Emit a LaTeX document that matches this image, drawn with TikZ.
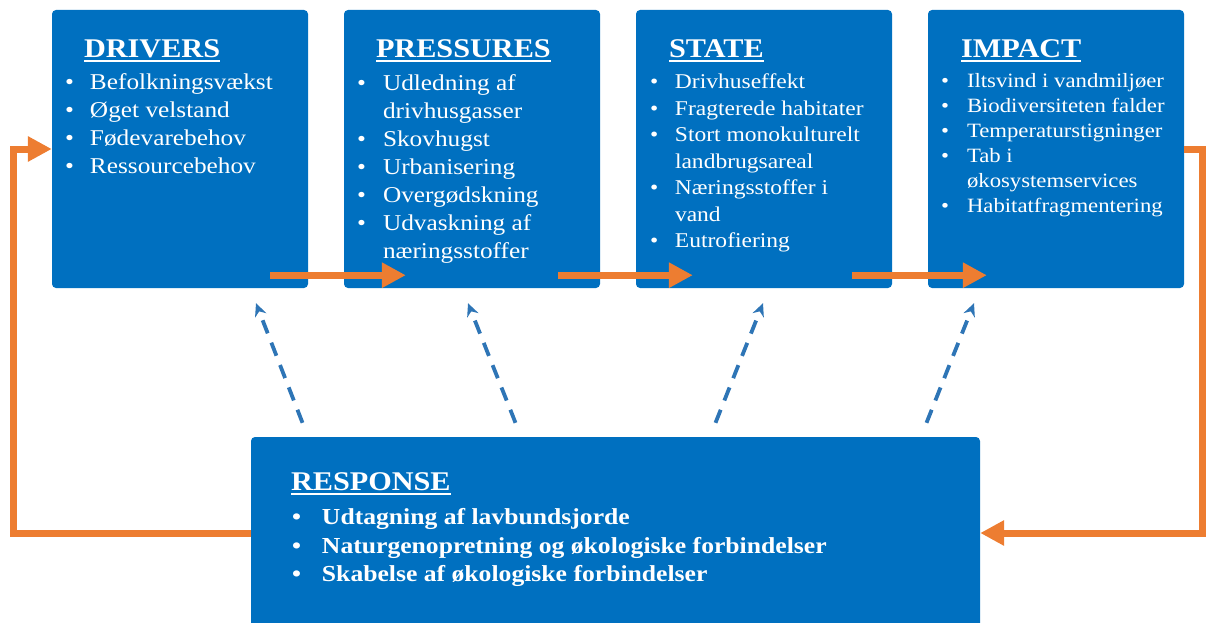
\documentclass[tikz,border=0pt]{standalone}
\usepackage{fontspec}
\setmainfont[FakeStretch=1.12]{Liberation Serif}
\usetikzlibrary{arrows.meta,positioning}
\definecolor{boxblue}{HTML}{0070C0}
\definecolor{flowor}{HTML}{ED7D31}
\definecolor{dashblue}{HTML}{2E75B6}
\newcommand\hd[1]{\setbox0\hbox{#1}\rlap{\rule[-4pt]{\wd0}{1.8pt}}\box0}

\begin{document}
\begin{tikzpicture}[x=1pt, y=1pt, node distance=292pt]
  \tikzstyle{stage} = [rectangle, fill=boxblue, rounded corners=4pt, minimum width=256pt,
                                    minimum height=278pt, inner sep=0pt]
  \tikzstyle{heading} = [anchor=base west, inner sep=0pt, text=white, font=\bfseries\fontsize{27}{32}\selectfont]
  \tikzstyle{items} = [anchor=base west, inner sep=0pt, text=white]
  \tikzstyle{flow} = [line width=7pt, draw=flowor, -{Triangle[length=24pt,width=24pt]}]
  \tikzstyle{respond} = [line width=3.8pt, draw=dashblue, dash pattern=on 14pt off 10pt,
                                    -{Stealth[length=13pt,width=12pt]}]
\clip (0,0) rectangle (1206,-623);
\node[stage] (drivers) at (180,-149) {};
\node[stage, right of=drivers] (pressures) {};
\node[stage, right of=pressures] (state) {};
\node[stage, right of=state] (impact) {};
\node[stage, minimum width=729pt, minimum height=213pt] (response) at (615.5,-543.5) {};
% headings
\node[heading] (drivhd) at ([xshift=32pt,yshift=-48pt]drivers.north west) {\hd{DRIVERS}};
\node[heading] (preshd) at ([xshift=32pt,yshift=-48pt]pressures.north west) {\hd{PRESSURES}};
\node[heading] (statehd) at ([xshift=33pt,yshift=-48pt]state.north west) {\hd{STATE}};
\node[heading] (imphd) at ([xshift=33pt,yshift=-48pt]impact.north west) {\hd{IMPACT}};
\node[heading] (resphd) at ([xshift=40pt,yshift=-54pt]response.north west) {\hd{RESPONSE}};
% lists
\node[items, font=\fontsize{22.6}{28}\selectfont] (drivlist) at ([xshift=13pt,yshift=-80pt]drivers.north west)
  {\begin{tabular}[t]{@{}p{25pt}@{}l@{}}
   \textbullet & Befolkningsvækst\\
   \textbullet & Øget velstand\\
   \textbullet & Fødevarebehov\\
   \textbullet & Ressourcebehov
   \end{tabular}};
\node[items, font=\fontsize{22.6}{28}\selectfont] (preslist) at ([xshift=13pt,yshift=-81pt]pressures.north west)
  {\begin{tabular}[t]{@{}p{26pt}@{}l@{}}
   \textbullet & Udledning af\\
               & drivhusgasser\\
   \textbullet & Skovhugst\\
   \textbullet & Urbanisering\\
   \textbullet & Overgødskning\\
   \textbullet & Udvaskning af\\
               & næringsstoffer
   \end{tabular}};
\node[items, font=\fontsize{21}{26.5}\selectfont] (statelist) at ([xshift=14pt,yshift=-79pt]state.north west)
  {\begin{tabular}[t]{@{}p{25pt}@{}l@{}}
   \textbullet & Drivhuseffekt\\
   \textbullet & Fragterede habitater\\
   \textbullet & Stort monokulturelt\\
               & landbrugsareal\\
   \textbullet & Næringsstoffer i\\
               & vand\\
   \textbullet & Eutrofiering
   \end{tabular}};
\node[items, font=\fontsize{20.3}{25}\selectfont] (implist) at ([xshift=13pt,yshift=-78pt]impact.north west)
  {\begin{tabular}[t]{@{}p{26pt}@{}l@{}}
   \textbullet & Iltsvind i vandmiljøer\\
   \textbullet & Biodiversiteten falder\\
   \textbullet & Temperaturstigninger\\
   \textbullet & Tab i\\
               & økosystemservices\\
   \textbullet & Habitatfragmentering
   \end{tabular}};
\node[items, font=\bfseries\fontsize{22.9}{28.5}\selectfont] (resplist) at ([xshift=41pt,yshift=-88pt]response.north west)
  {\begin{tabular}[t]{@{}p{30pt}@{}l@{}}
   \textbullet & Udtagning af lavbundsjorde\\
   \textbullet & Naturgenopretning og økologiske forbindelser\\
   \textbullet & Skabelse af økologiske forbindelser
   \end{tabular}};
% chain arrows
\draw[flow] ([xshift=-38pt,yshift=13pt]drivers.south east) -- ([xshift=62pt,yshift=13pt]pressures.south west);
\draw[flow] ([xshift=-42pt,yshift=13pt]pressures.south east) -- ([xshift=57pt,yshift=13pt]state.south west);
\draw[flow] ([xshift=-40pt,yshift=13pt]state.south east) -- ([xshift=59pt,yshift=13pt]impact.south west);
% feedback loop
\coordinate (rturn) at (1202,-533);
\coordinate (lturn) at (13,-533);
\draw[flow] (impact.east) -| (rturn) -- (response.east |- rturn);
\draw[flow] (response.west |- lturn) -- (lturn) |- (drivers.west);
% response arrows
\draw[respond] ([xshift=-313pt,yshift=14pt]response.north) -- ([xshift=76pt,yshift=-15pt]drivers.south);
\draw[respond] ([xshift=-100pt,yshift=14pt]response.north) -- ([xshift=-4pt,yshift=-15pt]pressures.south);
\draw[respond] ([xshift=100pt,yshift=14pt]response.north) -- ([xshift=-1pt,yshift=-15pt]state.south);
\draw[respond] ([xshift=311pt,yshift=14pt]response.north) -- ([xshift=-82pt,yshift=-15pt]impact.south);
\end{tikzpicture}
\end{document}
